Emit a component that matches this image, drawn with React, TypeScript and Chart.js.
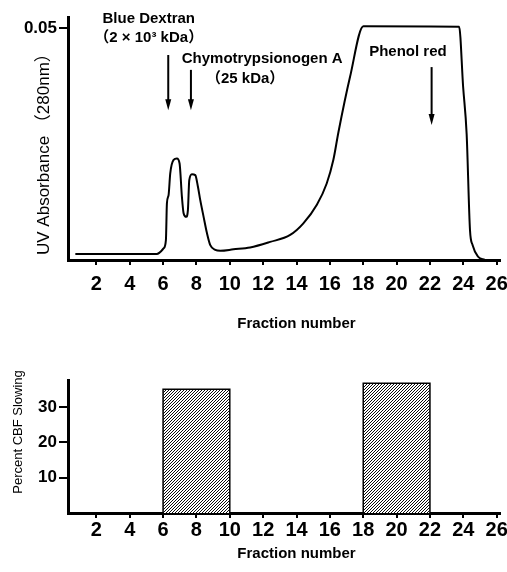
import React, { useEffect, useRef } from 'react';
import { Chart, registerables } from 'chart.js';

Chart.register(...registerables);

// ---- Data ----
const FRACTIONS = [
  0.74, 3.0, 5.63, 6.03, 6.17, 6.23, 6.33, 6.43, 6.63, 6.83, 6.99, 7.13, 7.23, 7.39, 7.49, 7.57,
  7.73, 7.93, 8.09, 8.23, 8.43, 8.63, 8.83, 9.13, 9.43, 10.22, 11.22, 12.42, 13.62, 14.41, 15.22,
  15.81, 16.21, 16.51, 17.21, 18.01, 23.75, 23.99, 24.2, 24.4, 24.56, 24.89, 25.29,
];
const UV_ABSORBANCE = [
  0.0013, 0.0013, 0.0013, 0.0025, 0.0043, 0.0122, 0.014, 0.0187, 0.0216, 0.0219, 0.0208, 0.0136,
  0.0101, 0.0093, 0.0108, 0.0172, 0.0185, 0.0183, 0.0158, 0.0129, 0.0093, 0.0058, 0.0032, 0.0022,
  0.002, 0.0023, 0.0027, 0.0039, 0.0054, 0.0079, 0.0119, 0.0165, 0.0216, 0.0275, 0.0395, 0.0504,
  0.0503, 0.0373, 0.0272, 0.0065, 0.0032, 0.0007, 0.0,
];
const X_TICKS = [2, 4, 6, 8, 10, 12, 14, 16, 18, 20, 22, 24, 26];
const UV_TICKS = [0.05];
const CBF_TICKS = [10, 20, 30];
const CBF_BIN_START = [6, 18];
const CBF_BIN_END = [10, 22];
const CBF_PERCENT = [35, 36.7];

const MARKER_LABELS = ['Blue Dextran', 'Chymotrypsionogen A', 'Phenol red'];
const MARKER_SUBLABELS = ['（2 × 10³ kDa）', '（25 kDa）', ''];
const MARKER_FRACTIONS = [6.31, 7.67, 22.1];

const X_TITLE = 'Fraction number';
const UV_TITLE = 'UV Absorbance （280nm）';
const CBF_TITLE = 'Percent CBF Slowing';

const SANS = '"Liberation Sans", Arial, "Noto Sans CJK JP", sans-serif';
const NARROW = '"Liberation Sans Narrow", "Liberation Sans", Arial, sans-serif';

function fixScale(size: number, vertical: boolean) {
  return (scale: any) => {
    if (vertical) scale.width = size;
    else scale.height = size;
    scale.paddingLeft = 0;
    scale.paddingRight = 0;
    scale.paddingTop = 0;
    scale.paddingBottom = 0;
  };
}

function setTicks(values: number[]) {
  return (scale: any) => {
    scale.ticks = values.map((v) => ({ value: v }));
  };
}

function makeHatch(ctx: CanvasRenderingContext2D) {
  const c = document.createElement('canvas');
  c.width = 3;
  c.height = 3;
  const g = c.getContext('2d')!;
  const img = g.createImageData(3, 3);
  for (let y = 0; y < 3; y++) {
    for (let x = 0; x < 3; x++) {
      const i = (y * 3 + x) * 4;
      const on = (x + y) % 3 === 2;
      const v = on ? 10 : 255;
      img.data[i] = v;
      img.data[i + 1] = v;
      img.data[i + 2] = v;
      img.data[i + 3] = 255;
    }
  }
  g.putImageData(img, 0, 0);
  return ctx.createPattern(c, 'repeat');
}

const topDecor = {
  id: 'topDecor',
  afterDraw(chart: any) {
    const { ctx, scales, chartArea } = chart;
    const xs = scales.x;
    const ys = scales.y;
    ctx.save();
    ctx.fillStyle = '#000';
    ctx.strokeStyle = '#000';
    ctx.textAlign = 'center';
    ctx.textBaseline = 'middle';
    ctx.font = 'bold 15px ' + SANS;
    const labelPos = [
      { x: 5.14, y: 0.0519, sx: 5.14, sy: 0.0478 },
      { x: 11.94, y: 0.0433, sx: 10.92, sy: 0.039 },
      { x: 20.68, y: 0.0448, sx: 0, sy: 0 },
    ];
    const arrowPos = [
      { top: 0.0442, tip: 0.0323 },
      { top: 0.041, tip: 0.0323 },
      { top: 0.0416, tip: 0.0291 },
    ];
    MARKER_LABELS.forEach((lab, i) => {
      const p = labelPos[i];
      ctx.fillText(lab, xs.getPixelForValue(p.x), ys.getPixelForValue(p.y));
      if (MARKER_SUBLABELS[i]) {
        ctx.fillText(MARKER_SUBLABELS[i], xs.getPixelForValue(p.sx), ys.getPixelForValue(p.sy));
      }
      const ax = xs.getPixelForValue(MARKER_FRACTIONS[i]);
      const at = ys.getPixelForValue(arrowPos[i].top);
      const ab = ys.getPixelForValue(arrowPos[i].tip);
      ctx.lineWidth = 2;
      ctx.beginPath();
      ctx.moveTo(ax, at);
      ctx.lineTo(ax, ab - 8);
      ctx.stroke();
      ctx.beginPath();
      ctx.moveTo(ax, ab);
      ctx.lineTo(ax - 3, ab - 11);
      ctx.lineTo(ax + 3, ab - 11);
      ctx.closePath();
      ctx.fill();
    });
    ctx.font = 'bold 15px ' + SANS;
    ctx.fillText(X_TITLE, xs.getPixelForValue(14), chartArea.bottom + 64);
    ctx.font = '17px ' + SANS;
    ctx.translate(44, ys.getPixelForValue(0.0237));
    ctx.rotate(-Math.PI / 2);
    ctx.fillText(UV_TITLE, 0, 0);
    ctx.restore();
  },
};

const bottomDecor = {
  id: 'bottomDecor',
  afterDraw(chart: any) {
    const { ctx, scales, chartArea } = chart;
    const xs = scales.x;
    const ys = scales.y;
    ctx.save();
    ctx.fillStyle = '#000';
    ctx.textAlign = 'center';
    ctx.textBaseline = 'middle';
    ctx.font = 'bold 15px ' + SANS;
    ctx.fillText(X_TITLE, xs.getPixelForValue(14), chartArea.bottom + 41);
    ctx.font = '13px ' + SANS;
    ctx.translate(18, ys.getPixelForValue(22.9));
    ctx.rotate(-Math.PI / 2);
    ctx.fillText(CBF_TITLE, 0, 0);
    ctx.restore();
  },
};

function xAxis(height: number, pad: number) {
  return {
    type: 'linear' as const,
    min: 0.3,
    max: 26.2,
    afterBuildTicks: setTicks(X_TICKS),
    afterFit: fixScale(height, false),
    border: { display: true, color: '#000', width: 3 },
    grid: { display: true, drawOnChartArea: false, drawTicks: true, tickLength: 5, color: '#000', lineWidth: 2 },
    ticks: {
      color: '#000',
      padding: pad,
      maxRotation: 0,
      autoSkip: false,
      font: { family: NARROW, size: 20, weight: 'bold' as const },
      callback: (v: any) => String(v),
    },
  };
}

export default function App() {
  const topRef = useRef<HTMLCanvasElement>(null);
  const botRef = useRef<HTMLCanvasElement>(null);

  useEffect(() => {
    const topChart = new Chart(topRef.current!, {
      type: 'line',
      data: {
        datasets: [
          {
            data: FRACTIONS.map((f, i) => ({ x: f, y: UV_ABSORBANCE[i] })),
            borderColor: '#000',
            borderWidth: 2,
            pointRadius: 0,
            cubicInterpolationMode: 'monotone',
            fill: false,
          },
        ],
      },
      options: {
        responsive: false,
        animation: false,
        events: [],
        layout: { padding: { left: 0, top: 17, right: 7, bottom: 0 } },
        plugins: { legend: { display: false }, tooltip: { enabled: false } },
        scales: {
          x: xAxis(80, 7),
          y: {
            type: 'linear',
            min: 0,
            max: 0.0524,
            afterBuildTicks: setTicks(UV_TICKS),
            afterFit: fixScale(68, true),
            border: { display: true, color: '#000', width: 3 },
            grid: { display: true, drawOnChartArea: false, drawTicks: true, tickLength: 9, color: '#000', lineWidth: 2 },
            ticks: {
              color: '#000',
              padding: 2,
              font: { family: SANS, size: 17, weight: 'bold' },
              callback: (v: any) => Number(v).toFixed(2),
            },
          },
        },
      },
      plugins: [topDecor],
    });

    const ctx2 = botRef.current!.getContext('2d')!;
    const hatch = makeHatch(ctx2);
    const botChart = new Chart(botRef.current!, {
      type: 'line',
      data: {
        datasets: CBF_PERCENT.map((v, i) => ({
          data: [
            { x: CBF_BIN_START[i], y: 0 },
            { x: CBF_BIN_START[i], y: v },
            { x: CBF_BIN_END[i], y: v },
            { x: CBF_BIN_END[i], y: 0 },
          ],
          borderColor: '#000',
          borderWidth: 1.5,
          backgroundColor: hatch as any,
          pointRadius: 0,
          tension: 0,
          fill: 'origin',
        })),
      },
      options: {
        responsive: false,
        animation: false,
        events: [],
        layout: { padding: { left: 0, top: 40, right: 7, bottom: 0 } },
        plugins: { legend: { display: false }, tooltip: { enabled: false } },
        scales: {
          x: xAxis(59, 0),
          y: {
            type: 'linear',
            min: 0,
            max: 37.6,
            afterBuildTicks: setTicks(CBF_TICKS),
            afterFit: fixScale(68, true),
            border: { display: true, color: '#000', width: 3 },
            grid: { display: true, drawOnChartArea: false, drawTicks: true, tickLength: 9, color: '#000', lineWidth: 2 },
            ticks: {
              color: '#000',
              padding: 2,
              font: { family: SANS, size: 17, weight: 'bold' },
              callback: (v: any) => String(v),
            },
          },
        },
      },
      plugins: [bottomDecor],
    });

    return () => {
      topChart.destroy();
      botChart.destroy();
    };
  }, []);

  return (
    <div style={{ position: 'fixed', left: 0, top: 0, width: 507, height: 572, background: '#fff' }}>
      <canvas
        ref={topRef}
        width={507}
        height={340}
        style={{ position: 'absolute', left: 0, top: 0, width: 507, height: 340 }}
      />
      <canvas
        ref={botRef}
        width={507}
        height={232}
        style={{ position: 'absolute', left: 0, top: 340, width: 507, height: 232 }}
      />
    </div>
  );
}
